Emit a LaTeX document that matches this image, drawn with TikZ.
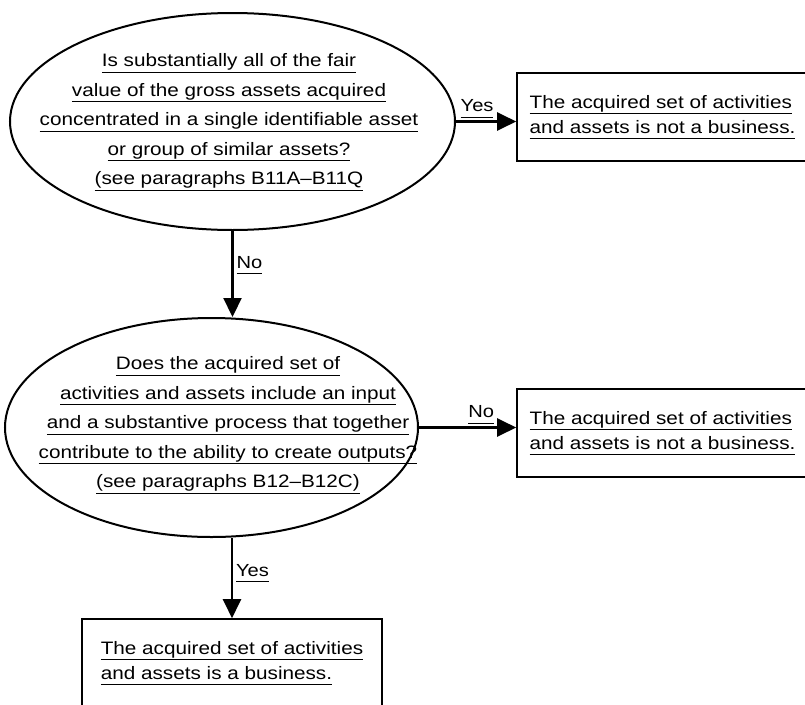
\documentclass[tikz,border=0pt]{standalone}
\usepackage{fontspec}
\setmainfont{Liberation Sans}[FakeStretch=1.15]
\usetikzlibrary{arrows.meta,shapes.geometric}
\newcommand\uln[1]{\underline{\vphantom{gp}#1}}
\tikzset{
  question/.style={draw, ellipse, line width=2pt, inner sep=0pt},
  qtext/.style={align=center, inner sep=0pt, font=\fontsize{18}{29.5}\selectfont},
  answer/.style={draw, line width=1.6pt, align=left, inner sep=0pt,
    minimum height=88pt, font=\fontsize{18}{25}\selectfont},
  flow/.style={line width=2.2pt, -{Triangle[length=19pt,width=18pt]}},
  lbl/.style={inner sep=3pt, font=\fontsize{17.5}{20}\selectfont}
}

\begin{document}
\begin{tikzpicture}[x=1pt, y=-1pt]
			\useasboundingbox (0, 0) rectangle (805, 704);
			
			%%%%% QUESTIONS %%%%%
			\node[question, minimum width=445pt, minimum height=217pt] (q1) at (232.5, 121.5) {};
			\node[qtext] (q1text) at (229, 122) {\uln{Is substantially all of the fair}\\
				\uln{value of the gross assets acquired}\\
				\uln{concentrated in a single identifiable asset}\\
				\uln{or group of similar assets?}\\
				\uln{(see paragraphs B11A--B11Q}};
			
			\node[question, minimum width=413pt, minimum height=219pt] (q2) at (211.5, 427.5) {};
			\node[qtext] (q2text) at (228, 425) {\uln{Does the acquired set of}\\
				\uln{activities and assets include an input}\\
				\uln{and a substantive process that together}\\
				\uln{contribute to the ability to create outputs?}\\
				\uln{(see paragraphs B12--B12C)}};
			
			%%%%% ANSWERS %%%%%
			\node[answer, minimum width=291pt] (a1) at (662.5, 117) {\uln{The acquired set of activities}\\
				\uln{and assets is not a business.}};
			\node[answer, minimum width=291pt] (a2) at (662.5, 433) {\uln{The acquired set of activities}\\
				\uln{and assets is not a business.}};
			\node[answer, minimum width=300pt] (a3) at (232, 663) {\uln{The acquired set of activities}\\
				\uln{and assets is a business.}};
			
			%%%%% ARROWS %%%%%
			\draw[flow] (q1.east) -- (q1.east -| a1.west) node[lbl, above, pos=0.35] {\uln{Yes}};
			\draw[flow] (q1.south) -- (q1.south |- q2.north) node[lbl, right, pos=0.4] {\uln{No}};
			\draw[flow] (q2.east) -- (q2.east -| a2.west) node[lbl, above, pos=0.64] {\uln{No}};
			\draw[flow] (a3.north |- q2.south) -- (a3.north) node[lbl, right, pos=0.44] {\uln{Yes}};
			
		\end{tikzpicture}
\end{document}
